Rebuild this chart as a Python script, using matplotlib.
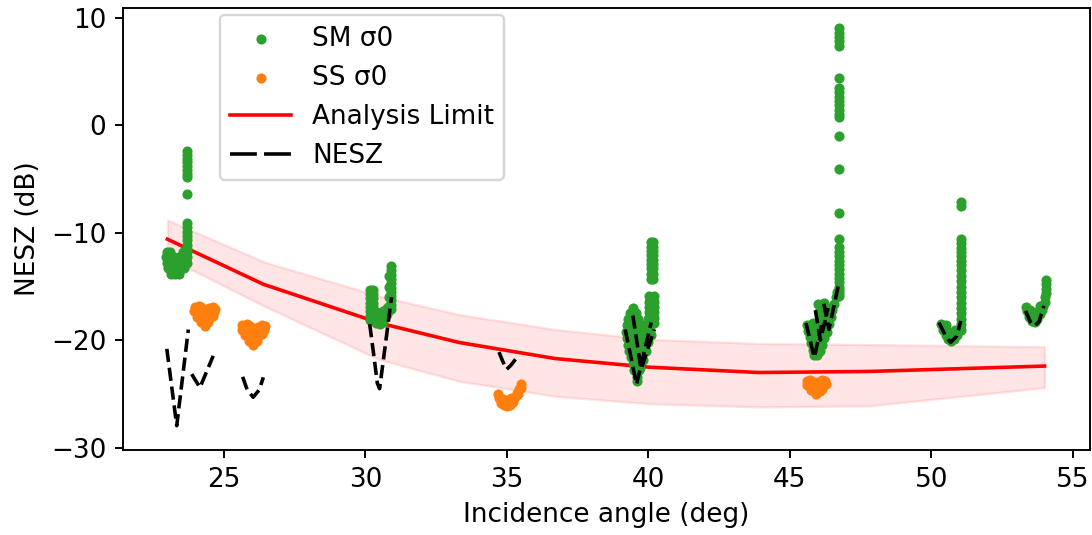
import numpy as np
import matplotlib.pyplot as plt
from matplotlib.ticker import MultipleLocator

plt.rcParams['font.size'] = 11

# Analysis limit (dB) and its band
lim_x = [23.0, 26.4, 30.5, 33.3, 36.7, 40.0, 43.9, 47.8, 54.0]
lim_y = [-10.6, -14.8, -18.4, -20.2, -21.7, -22.5, -23.0, -22.9, -22.4]
lim_hi = [-8.8, -12.7, -15.9, -17.6, -19.0, -19.9, -20.3, -20.4, -20.6]
lim_lo = [-12.3, -16.8, -21.8, -23.8, -25.2, -25.9, -26.2, -26.1, -24.4]

# SM sigma0, one group per beam
sm1_x = [23.71] * 9 + [23.70] * 7 + [22.98, 23.1, 23.55, 23.68,
         22.95, 23.1, 23.25, 23.4, 23.55, 23.68,
         22.97, 23.12, 23.27, 23.42, 23.57, 23.68,
         23.02, 23.17, 23.32, 23.47, 23.6,
         23.12, 23.27, 23.42]
sm1_y = [-2.4, -2.75, -3.1, -3.45, -3.8, -4.15, -4.5, -4.85, -6.4,
         -9.1, -9.5, -9.9, -10.3, -10.7, -11.1, -11.5,
         -11.8, -11.8, -11.8, -11.8,
         -12.3, -12.3, -12.3, -12.3, -12.3, -12.3,
         -12.8, -12.8, -12.8, -12.8, -12.8, -12.8,
         -13.3, -13.3, -13.3, -13.3, -13.3,
         -13.8, -13.8, -13.8]

sm2_x = [30.15] * 8 + [30.26] * 8 + [30.38, 30.38, 30.38, 30.5, 30.5, 30.5, 30.62, 30.62, 30.62, 30.75, 30.75] \
        + [30.9] * 11 + [30.84] * 4
sm2_y = [-15.3, -15.7, -16.1, -16.5, -16.9, -17.3, -17.7, -18.1] * 2 \
        + [-17.4, -17.9, -18.4, -17.5, -18.0, -18.5, -17.3, -17.8, -18.3, -17.0, -17.6] \
        + [-13.1, -13.5, -13.9, -14.3, -14.7, -15.1, -15.5, -15.9, -16.3, -16.7, -17.1] \
        + [-14.0, -15.0, -16.0, -16.8]

sm4_x = [40.1] * 9 + [40.17] * 9 + [40.03] * 6 + [40.2] * 6 + [
    39.45, 39.35, 39.55, 39.28, 39.45, 39.62, 39.23, 39.4, 39.57, 39.75,
    39.22, 39.4, 39.58, 39.76, 39.92, 39.24, 39.42, 39.6, 39.78, 39.92,
    39.27, 39.45, 39.63, 39.8, 39.32, 39.5, 39.68, 39.38, 39.55, 39.72,
    39.45, 39.62, 39.5, 39.65, 39.58, 39.58,
    39.95, 40.0, 40.05, 40.1, 40.0, 39.9, 39.8, 39.72]
sm4_y = [-10.9, -11.3, -11.7, -12.1, -12.5, -12.9, -13.3, -13.8, -14.3] * 2 \
        + [-15.9, -16.4, -16.9, -17.4, -17.9, -18.4] * 2 + [
    -17.0, -17.5, -17.5, -18.0, -18.0, -18.0, -18.6, -18.6, -18.6, -18.6,
    -19.2, -19.2, -19.2, -19.2, -19.0, -19.8, -19.8, -19.8, -19.8, -19.6,
    -20.4, -20.4, -20.4, -20.4, -21.0, -21.0, -21.0, -21.6, -21.6, -21.5,
    -22.2, -22.2, -22.8, -22.8, -23.4, -23.8,
    -18.5, -18.0, -19.0, -19.5, -20.2, -21.0, -21.8, -22.6]

sm5_x = [46.72] * 31 + [
    46.68, 46.62, 46.55, 46.5, 46.45, 46.38, 46.3, 46.22, 46.15, 46.05, 45.95,
    45.98, 46.05, 46.1, 46.15, 46.1, 46.05, 46.0, 45.95,
    45.6, 45.65, 45.7, 45.75, 45.8, 45.85, 45.8, 45.85, 45.9,
    46.3, 46.25, 46.2]
sm5_y = [9.0, 8.6, 8.2, 7.8, 7.4, 4.4, 3.45, 3.05, 2.65, 2.25, 1.85, 1.45, 1.05, 0.8,
         -1.0, -4.1, -8.15, -10.6, -11.35, -11.8, -12.2, -12.6, -13.0, -13.4, -13.8,
         -14.2, -14.6, -15.0, -15.3, -15.6, -15.9] + [
    -15.5, -16.0, -16.6, -17.2, -17.8, -18.5, -19.2, -19.8, -20.4, -21.0, -21.4,
    -16.6, -17.1, -17.7, -18.3, -18.9, -19.5, -20.2, -20.8,
    -18.6, -19.1, -19.7, -20.3, -20.9, -21.4, -18.4, -19.0, -19.6,
    -17.0, -18.0, -16.5]

sm6_x = [51.04] * 21 + [50.35, 50.4, 50.5, 50.6, 50.7, 50.8, 50.9, 51.0, 50.5, 50.6, 50.75, 50.85]
sm6_y = [-7.1, -7.5, -10.6, -11.0, -11.4, -11.8, -12.2, -12.6, -13.0, -13.5, -14.0,
         -14.5, -15.0, -15.5, -16.0, -16.5, -17.0, -17.5, -18.0, -18.5, -19.0] \
        + [-18.5, -19.0, -19.5, -19.9, -20.1, -19.9, -19.5, -19.0, -18.6, -19.2, -19.5, -19.0]

sm7_x = [54.05, 54.05, 54.05, 54.05, 54.0, 54.0, 53.95, 53.9, 53.85, 53.75, 53.65,
         53.55, 53.45, 53.38, 53.35, 53.5, 53.6, 53.75, 53.85]
sm7_y = [-14.4, -14.8, -15.2, -15.6, -16.0, -16.4, -16.8, -17.2, -17.6, -18.0, -18.3,
         -18.2, -17.8, -17.3, -16.9, -17.2, -17.6, -17.4, -16.8]

# SS sigma0
ss1_x = [23.97, 24.1, 24.2, 24.48, 24.6, 24.7,
         23.95, 24.1, 24.25, 24.4, 24.55, 24.66,
         24.05, 24.2, 24.35, 24.5, 24.62,
         24.2, 24.32, 24.45, 24.33]
ss1_y = [-16.9, -16.8, -16.95, -17.0, -16.9, -17.05,
         -17.3, -17.4, -17.4, -17.4, -17.35, -17.4,
         -17.8, -17.9, -17.9, -17.8, -17.7,
         -18.3, -18.5, -18.3, -18.65]

ss2_x = [25.65, 25.8, 25.92, 26.2, 26.33, 26.45,
         25.65, 25.8, 25.95, 26.1, 26.25, 26.42,
         25.75, 25.9, 26.05, 26.2, 26.35,
         25.9, 26.03, 26.15]
ss2_y = [-18.6, -18.5, -18.7, -18.75, -18.55, -18.7,
         -19.0, -19.1, -19.2, -19.2, -19.1, -19.0,
         -19.5, -19.7, -19.7, -19.6, -19.4,
         -20.1, -20.4, -20.1]

ss3_x = [34.7, 34.72, 34.8, 34.9, 35.0, 35.1, 35.2, 35.28, 35.35, 35.42, 35.48,
         35.5, 35.4, 34.85, 35.0, 35.15]
ss3_y = [-25.0, -25.4, -25.8, -26.05, -26.15, -26.0, -25.7, -25.3, -24.9, -24.5, -24.1,
         -24.4, -25.0, -25.5, -25.7, -25.4]

ss5_x = [45.6, 45.72, 45.85, 46.0, 46.12, 46.25,
         45.6, 45.75, 45.9, 46.05, 46.2, 46.27,
         45.75, 45.9, 46.05, 46.15, 45.92]
ss5_y = [-23.8, -23.7, -23.9, -23.9, -23.7, -23.8,
         -24.2, -24.3, -24.3, -24.3, -24.2, -24.1,
         -24.6, -24.7, -24.7, -24.5, -25.0]

# NESZ segments
nesz = [
    ([22.98, 23.33, 23.74], [-20.8, -27.95, -19.0]),
    ([23.86, 24.15, 24.62], [-23.15, -24.4, -21.45]),
    ([25.66, 25.82, 26.03, 26.25, 26.39], [-23.4, -24.6, -25.3, -24.6, -23.45]),
    ([30.15, 30.3, 30.42, 30.5, 30.7, 30.92], [-18.5, -21.5, -24.0, -24.5, -20.5, -16.0]),
    ([34.72, 34.85, 34.99, 35.15, 35.38], [-21.1, -21.95, -22.7, -22.3, -21.5]),
    ([39.18, 39.58, 40.1], [-19.0, -24.1, -18.35]),
    ([39.45, 39.74, 40.21], [-17.7, -22.7, -19.0]),
    ([45.57, 45.86, 46.12], [-18.4, -21.6, -18.6]),
    ([45.9, 46.08, 46.35], [-17.2, -20.0, -17.0]),
    ([46.2, 46.38, 46.72], [-16.6, -19.0, -14.8]),
    ([50.27, 50.5, 50.68, 50.9, 51.04], [-18.35, -19.6, -20.2, -19.6, -18.2]),
    ([53.33, 53.5, 53.63, 53.8, 53.98], [-17.27, -18.3, -18.66, -18.3, -16.8]),
]

sm_x = sm1_x + sm2_x + sm4_x + sm5_x + sm6_x + sm7_x
sm_y = sm1_y + sm2_y + sm4_y + sm5_y + sm6_y + sm7_y
ss_x = ss1_x + ss2_x + ss3_x + ss5_x
ss_y = ss1_y + ss2_y + ss3_y + ss5_y

fig, ax = plt.subplots(figsize=(1092 / 172, 535 / 172), dpi=172)
fig.subplots_adjust(left=0.1126, right=0.998, top=0.985, bottom=0.159)

ax.scatter(sm_x, sm_y, s=18, linewidths=0, color='tab:green', label='SM σ0', zorder=3)
ax.scatter(ss_x, ss_y, s=18, linewidths=0, color='tab:orange', label='SS σ0', zorder=3)
ax.plot(lim_x, lim_y, color='red', lw=1.5, label='Analysis Limit', zorder=2)
ax.fill_between(lim_x, lim_lo, lim_hi, color='red', alpha=0.1, zorder=1)
for i, (xs, ys) in enumerate(nesz):
    ax.plot(xs, ys, 'k--', lw=1.5, zorder=4, label='NESZ' if i == 0 else None)

ax.set_xlim(21.43, 55.6)
ax.set_ylim(-30.2, 10.9)
ax.yaxis.set_major_locator(MultipleLocator(10))
ax.set_xlabel('Incidence angle (deg)')
ax.set_ylabel('NESZ (dB)')

leg = ax.legend(loc='upper left', bbox_to_anchor=(0.1003, 0.984), borderaxespad=0,
                handlelength=2.3)
leg.get_lines()[-1].set_linestyle((0, (7.5, 2)))

fig.savefig('out.png', dpi=172)
